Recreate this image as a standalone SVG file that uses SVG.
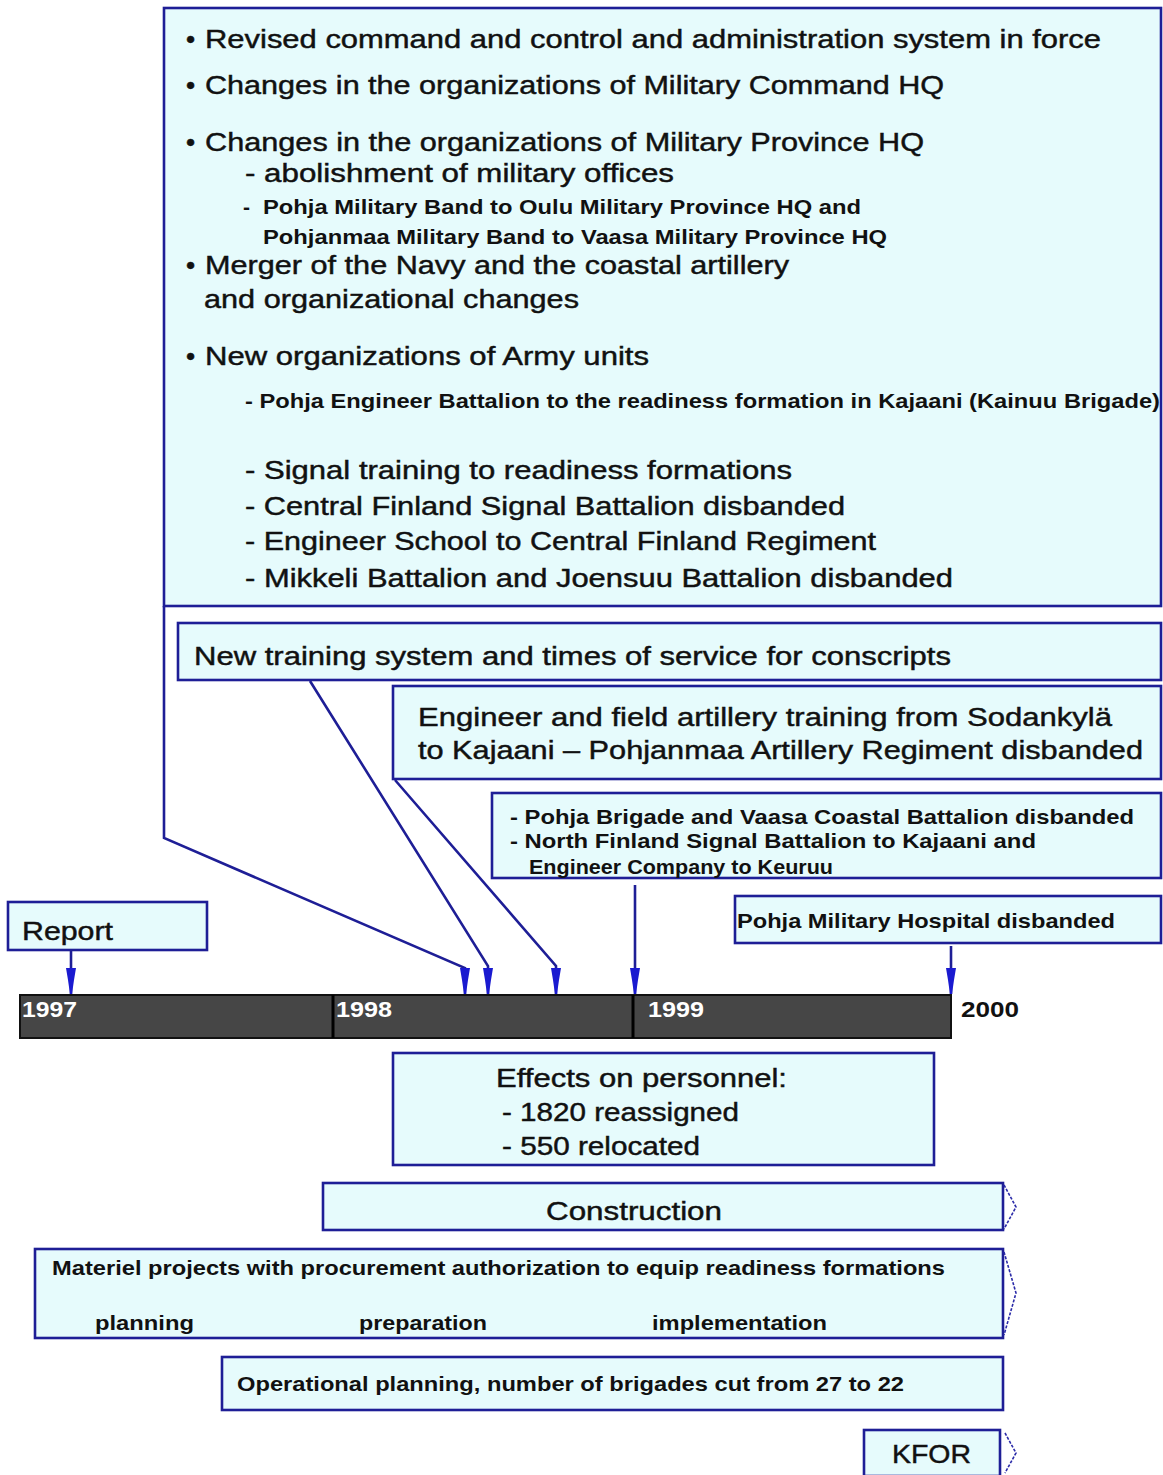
<svg xmlns="http://www.w3.org/2000/svg" width="1163" height="1475" viewBox="0 0 1163 1475">
<style>
.box{fill:#e6fbfc;stroke:#1e1e96;stroke-width:2.6}
.t{font-family:"Liberation Sans",Arial,sans-serif;font-size:26px;fill:#111;stroke:#111;stroke-width:0.45}
.n{font-family:"Liberation Sans",Arial,sans-serif;font-size:21px;font-weight:bold;fill:#111}
.yr{font-family:"Liberation Sans",Arial,sans-serif;font-size:22px;font-weight:bold;fill:#fff}
.con{fill:none;stroke:#1e1e96;stroke-width:2.6}
.chev{fill:none;stroke:#2a2aa8;stroke-width:1.6;stroke-dasharray:3 1.5}
</style>
<defs>
<marker id="ah" markerUnits="userSpaceOnUse" markerWidth="12" markerHeight="26" viewBox="0 0 12 26" refX="6" refY="26" orient="0">
<path d="M1,0 H11 L9,12 L7,26 H5 L3,12 Z" fill="#1a1ad0"/>
</marker>
</defs>
<rect width="1163" height="1475" fill="#fff"/>

<g id="main">
<rect class="box" x="164" y="8" width="997" height="598"/>
<text class="t" x="186" y="48">•</text>
<text class="t" x="205" y="48" textLength="896" lengthAdjust="spacingAndGlyphs">Revised command and control and administration system in force</text>
<text class="t" x="186" y="94">•</text>
<text class="t" x="205" y="94" textLength="739" lengthAdjust="spacingAndGlyphs">Changes in the organizations of Military Command HQ</text>
<text class="t" x="186" y="151">•</text>
<text class="t" x="205" y="151" textLength="719" lengthAdjust="spacingAndGlyphs">Changes in the organizations of Military Province HQ</text>
<text class="t" x="245" y="182" textLength="429" lengthAdjust="spacingAndGlyphs">- abolishment of military offices</text>
<text class="n" x="243" y="214">-</text>
<text class="n" x="263" y="214" textLength="598" lengthAdjust="spacingAndGlyphs">Pohja Military Band to Oulu Military Province HQ and</text>
<text class="n" x="263" y="244" textLength="624" lengthAdjust="spacingAndGlyphs">Pohjanmaa Military Band to Vaasa Military Province HQ</text>
<text class="t" x="186" y="274">•</text>
<text class="t" x="205" y="274" textLength="584" lengthAdjust="spacingAndGlyphs">Merger of the Navy and the coastal artillery</text>
<text class="t" x="204" y="308" textLength="375" lengthAdjust="spacingAndGlyphs">and organizational changes</text>
<text class="t" x="186" y="365">•</text>
<text class="t" x="205" y="365" textLength="444" lengthAdjust="spacingAndGlyphs">New organizations of Army units</text>
<text class="n" x="245" y="408" textLength="915" lengthAdjust="spacingAndGlyphs">- Pohja Engineer Battalion to the readiness formation in Kajaani (Kainuu Brigade)</text>
<text class="t" x="245" y="479" textLength="547" lengthAdjust="spacingAndGlyphs">- Signal training to readiness formations</text>
<text class="t" x="245" y="515" textLength="600" lengthAdjust="spacingAndGlyphs">- Central Finland Signal Battalion disbanded</text>
<text class="t" x="245" y="550" textLength="631" lengthAdjust="spacingAndGlyphs">- Engineer School to Central Finland Regiment</text>
<text class="t" x="245" y="587" textLength="708" lengthAdjust="spacingAndGlyphs">- Mikkeli Battalion and Joensuu Battalion disbanded</text>
</g>

<g id="training">
<rect class="box" x="178" y="623" width="983" height="57"/>
<text class="t" x="194" y="665" textLength="757" lengthAdjust="spacingAndGlyphs">New training system and times of service for conscripts</text>
</g>

<g id="engineer">
<rect class="box" x="393" y="686" width="768" height="93"/>
<text class="t" x="418" y="726" textLength="694" lengthAdjust="spacingAndGlyphs">Engineer and field artillery training from Sodankylä</text>
<text class="t" x="418" y="759" textLength="725" lengthAdjust="spacingAndGlyphs">to Kajaani – Pohjanmaa Artillery Regiment disbanded</text>
</g>

<g id="brigade">
<rect class="box" x="492" y="793" width="669" height="85"/>
<text class="n" x="510" y="824" textLength="624" lengthAdjust="spacingAndGlyphs">- Pohja Brigade and Vaasa Coastal Battalion disbanded</text>
<text class="n" x="510" y="848" textLength="526" lengthAdjust="spacingAndGlyphs">- North Finland Signal Battalion to Kajaani and</text>
<text class="n" x="529" y="874" textLength="304" lengthAdjust="spacingAndGlyphs">Engineer Company to Keuruu</text>
</g>

<g id="report">
<rect class="box" x="8" y="902" width="199" height="48"/>
<text class="t" x="22" y="940" textLength="91" lengthAdjust="spacingAndGlyphs">Report</text>
</g>

<g id="hospital">
<rect class="box" x="735" y="896" width="426" height="47"/>
<text class="n" x="737" y="928" textLength="378" lengthAdjust="spacingAndGlyphs">Pohja Military Hospital disbanded</text>
</g>

<g id="timeline">
<rect x="20" y="995" width="931" height="43" fill="#464646" stroke="#111" stroke-width="2"/>
<line x1="333" y1="995" x2="333" y2="1038" stroke="#000" stroke-width="3"/>
<line x1="633" y1="995" x2="633" y2="1038" stroke="#000" stroke-width="3"/>
<text class="yr" x="22" y="1017" textLength="55" lengthAdjust="spacingAndGlyphs">1997</text>
<text class="yr" x="336" y="1017" textLength="56" lengthAdjust="spacingAndGlyphs">1998</text>
<text class="yr" x="648" y="1017" textLength="56" lengthAdjust="spacingAndGlyphs">1999</text>
<text class="yr" x="961" y="1017" textLength="58" lengthAdjust="spacingAndGlyphs" style="fill:#111">2000</text>
</g>

<g id="effects">
<rect class="box" x="393" y="1053" width="541" height="112"/>
<text class="t" x="496" y="1087" textLength="291" lengthAdjust="spacingAndGlyphs">Effects on personnel:</text>
<text class="t" x="502" y="1121" textLength="237" lengthAdjust="spacingAndGlyphs">- 1820 reassigned</text>
<text class="t" x="502" y="1155" textLength="198" lengthAdjust="spacingAndGlyphs">- 550 relocated</text>
</g>

<g id="construction">
<rect class="box" x="323" y="1183" width="680" height="47"/>
<path class="chev" d="M1004,1185 L1016,1207 L1004,1229"/>
<text class="t" x="546" y="1220" textLength="176" lengthAdjust="spacingAndGlyphs">Construction</text>
</g>

<g id="materiel">
<rect class="box" x="35" y="1249" width="968" height="89"/>
<path class="chev" d="M1004,1252 L1016,1293 L1004,1335"/>
<text class="n" x="52" y="1275" textLength="893" lengthAdjust="spacingAndGlyphs">Materiel projects with procurement authorization to equip readiness formations</text>
<text class="n" x="95" y="1330" textLength="99" lengthAdjust="spacingAndGlyphs">planning</text>
<text class="n" x="359" y="1330" textLength="128" lengthAdjust="spacingAndGlyphs">preparation</text>
<text class="n" x="652" y="1330" textLength="175" lengthAdjust="spacingAndGlyphs">implementation</text>
</g>

<g id="operational">
<rect class="box" x="222" y="1357" width="781" height="53"/>
<text class="n" x="237" y="1391" textLength="667" lengthAdjust="spacingAndGlyphs">Operational planning, number of brigades cut from 27 to 22</text>
</g>

<g id="kfor">
<rect class="box" x="864" y="1430" width="136" height="46"/>
<path class="chev" d="M1005,1433 L1016,1453 L1005,1473"/>
<text class="t" x="892" y="1463" textLength="79" lengthAdjust="spacingAndGlyphs">KFOR</text>
</g>

<g id="connectors">
<path class="con" d="M164,606 V838 L465,968 V994" marker-end="url(#ah)"/>
<path class="con" d="M310,681 L488,966 V994" marker-end="url(#ah)"/>
<path class="con" d="M395,780 L556,966 V994" marker-end="url(#ah)"/>
<path class="con" d="M635,885 V994" marker-end="url(#ah)"/>
<path class="con" d="M71,950 V994" marker-end="url(#ah)"/>
<path class="con" d="M951,946 V994" marker-end="url(#ah)"/>
</g>
</svg>
